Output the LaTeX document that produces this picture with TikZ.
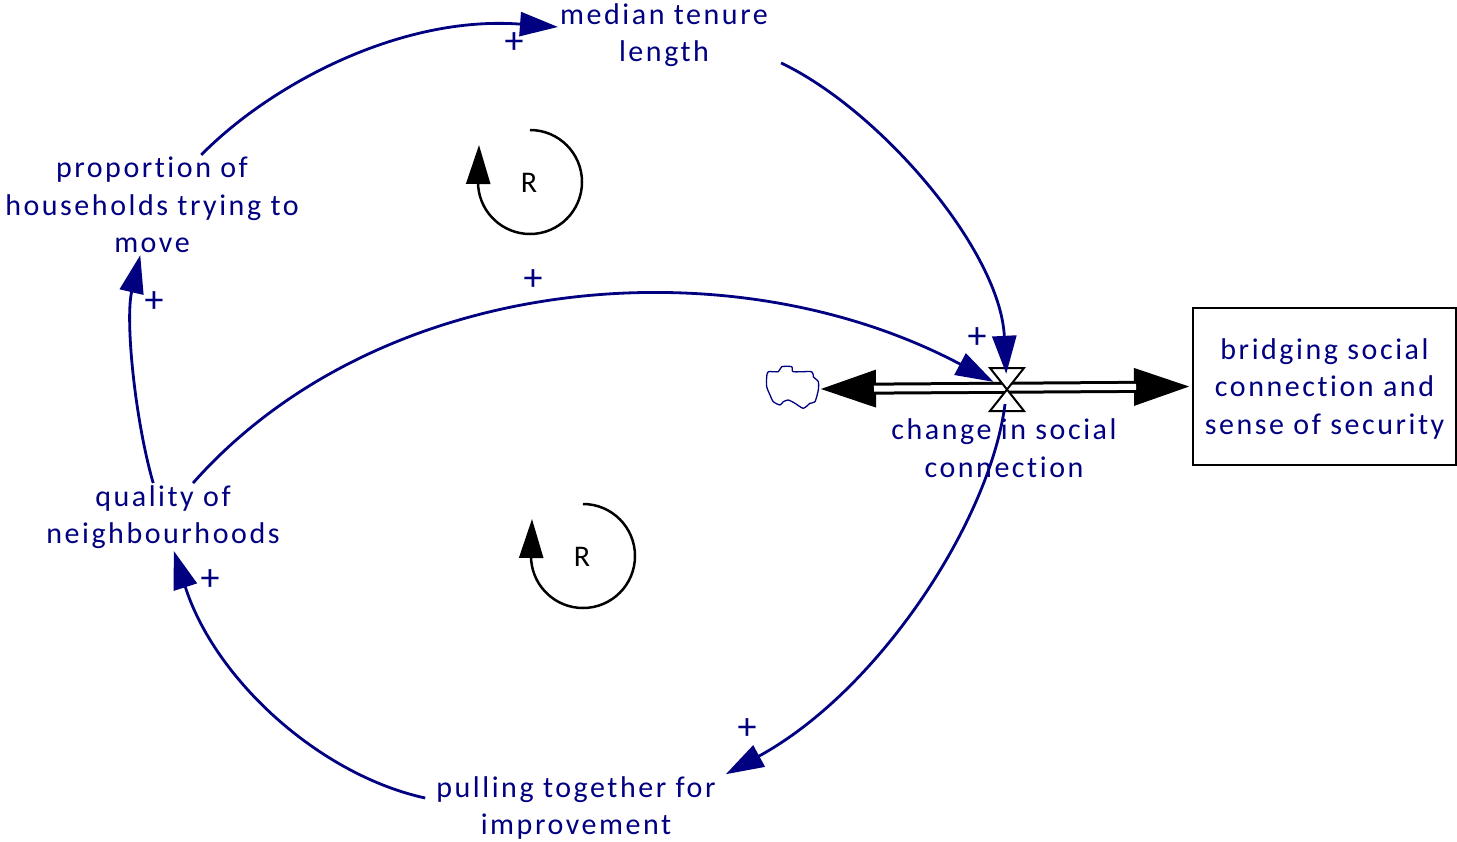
\documentclass[tikz,border=0pt]{standalone}
\usepackage{fontspec}
\setmainfont{Carlito}[LetterSpace=8.5,Ligatures=NoCommon]
\newfontfamily\rfont{Carlito}
\usetikzlibrary{arrows.meta}
\definecolor{nv}{RGB}{0,0,128}
\begin{document}
\begin{tikzpicture}[x=1pt,y=-1pt,
  var/.style={text=nv, align=center, font=\fontsize{30}{37.5}\selectfont, inner sep=2pt},
  lnk/.style={draw=nv, line width=2.8pt, -{Triangle[length=38pt,width=24pt]}},
  pol/.style={text=nv, font=\rfont\fontsize{38}{38}\selectfont, inner sep=0pt},
  loopar/.style={draw=black, line width=2.5pt, -{Triangle[length=39pt,width=24pt]}},
  looplbl/.style={text=black, font=\rfont\fontsize{30}{30}\selectfont, inner sep=0pt}
]
\useasboundingbox (0,0) rectangle (1457,841);

% variables
\node[var] (median) at (664,35) {median tenure\\length};
\node[var] (prop) at (152,205) {proportion of\\households trying to\\move};
\node[var] (qual) at (163,517) {quality of\\neighbourhoods};
\node[var] (pull) at (576,808) {pulling together for\\improvement};
\node[var] (chg) at (1004,448) {change in social\\connection};
\node[var, draw=black, line width=2pt, minimum width=263pt, minimum height=157pt, text depth=0pt] (stock) at (1324.5,386.5) {bridging social\\connection and\\sense of security};

% cloud
\coordinate (cloud) at (818,389);
\draw[nv, line width=1.3pt] plot[smooth cycle, tension=0.4] coordinates {
 (766.7,376.7) (768.3,371.7) (778.3,371.7) (781.7,366.7) (791.7,366.7) (793.3,371.7)
 (811.7,371.7) (813.3,376.7) (818.3,381.7) (818.3,390) (815,401.7) (810,403.3)
 (803.3,408.3) (795,403.3) (788.3,400) (783.3,401.7) (780,405) (773.3,401.7)
 (770,395) (766.7,386.7)};

% pipe
\draw[line width=12pt, {Triangle[length=58pt,width=34pt]}-{Triangle[length=58pt,width=34pt]}] (cloud) -- (stock.west);
\draw[line width=6pt, white, shorten <=56pt, shorten >=56pt] (cloud) -- (stock.west);

% valve
\node[circle, minimum size=30pt, inner sep=0pt] (valve) at (1007,389) {};
\draw[black, line width=2pt, fill=white] (990,368) -- (1024,368) -- (990,411) -- (1024,411) -- cycle;

% links
\draw[lnk] (prop) .. controls (270,85) and (400,15) .. (median);
\draw[lnk] ([xshift=11pt,yshift=6pt]median.south east) .. controls (880,110) and (1000,250) .. (valve);
\draw[lnk] (qual) .. controls (380,272) and (730,242) .. (valve);
\draw[lnk] (qual) .. controls (135,420) and (125,320) .. (prop);
\draw[lnk] (valve) .. controls (990,520) and (880,690) .. ([xshift=8pt]pull.north east);
\draw[lnk] ([xshift=-9pt,yshift=10pt]pull.west) .. controls (320,775) and (215,680) .. (qual);

% polarities
\node[pol] (p1) at (514,43) {+};
\node[pol] (p2) at (977,338) {+};
\node[pol] (p3) at (533,280) {+};
\node[pol] (p4) at (154,302) {+};
\node[pol] (p5) at (747,729) {+};
\node[pol] (p6) at (210,580) {+};

% loop markers
\draw[loopar] (530,130) arc[start angle=-90, end angle=175, radius=52] -- (479,145);
\node[looplbl] (r1) at (529,183) {R};
\draw[loopar] (583,504) arc[start angle=-90, end angle=175, radius=52] -- (532,519);
\node[looplbl] (r2) at (582,557) {R};
\end{tikzpicture}
\end{document}
